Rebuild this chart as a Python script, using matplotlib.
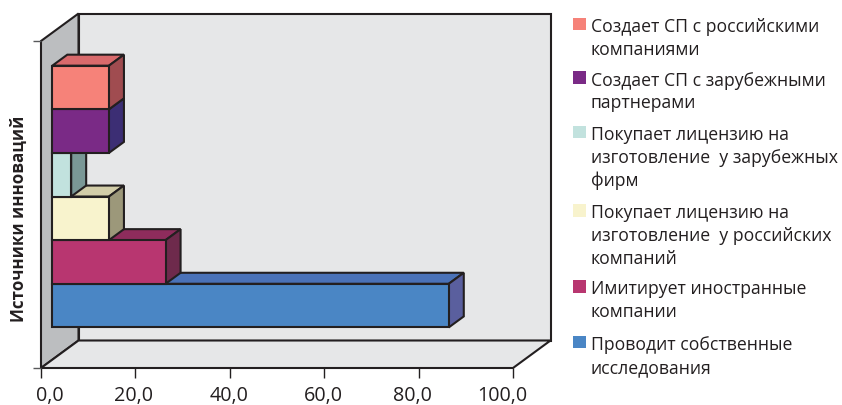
import matplotlib
matplotlib.use("Agg")
import matplotlib.pyplot as plt
from matplotlib.patches import Polygon
from matplotlib.transforms import ScaledTranslation

plt.rcParams['font.family'] = ['Open Sans', 'DejaVu Sans']

# Bottom-to-top order of the stacked bands
categories = [
    "Проводит собственные\nисследования",
    "Имитирует иностранные\nкомпании",
    "Покупает лицензию на\nизготовление  у российских\nкомпаний",
    "Покупает лицензию на\nизготовление  у зарубежных\nфирм",
    "Создает СП с зарубежными\nпартнерами",
    "Создает СП с российскими\nкомпаниями",
]
values = [84.0, 24.0, 12.0, 4.0, 12.0, 12.0]
front_colors = ["#4a86c5", "#b83670", "#f8f3cd", "#c2e2de", "#7a2a86", "#f68279"]
side_colors = ["#5a5f9e", "#6e2a4c", "#9c987a", "#7a9896", "#3c2e74", "#a04c50"]
top_colors = ["#4a72b8", "#8e2c5c", "#d2cda8", "#7a9896", "#3c2e74", "#d96a6c"]
legend_y = [343, 287.5, 211.5, 133, 78.5, 25]
tick_values = [0, 20, 40, 60, 80, 100]
tick_label_shift = [9, -2, -1, -1, -6, -11]

W, H = 842, 406
INK = "#231f20"
LW = 1.5

fig = plt.figure(figsize=(W / 100, H / 100), dpi=100)
ax = fig.add_axes([41 / W, (H - 369) / H, (513 - 41) / W, (369 - 42) / H])
band = 43.62
ax.set_xlim(0, 100)
ax.set_ylim(0, 327 / band)
for s in ax.spines.values():
    s.set_visible(False)
ax.patch.set_visible(False)

xu = 472 / 100
wall_dx, wall_dy = 37.5 / xu, 27.5 / band
bar_x0 = 11.3 / xu
bar_y0 = 40.6 / band
bar_dx, bar_dy = 15 / xu, 11 / band


def poly(pts, fc, z):
    ax.add_patch(Polygon(pts, closed=True, facecolor=fc, edgecolor=INK,
                         linewidth=LW, joinstyle="miter", clip_on=False, zorder=z))


ymax = 327 / band
# Back wall, side wall and floor
poly([(wall_dx, wall_dy), (100 + wall_dx, wall_dy), (100 + wall_dx, ymax + wall_dy),
      (wall_dx, ymax + wall_dy)], "#e6e7e8", 1)
poly([(0, 0), (wall_dx, wall_dy), (wall_dx, ymax + wall_dy), (0, ymax)], "#bcbec0", 1)
poly([(0, 0), (100, 0), (100 + wall_dx, wall_dy), (wall_dx, wall_dy)], "#e6e7e8", 1)

# Each band is a box: top and right-hand faces behind, front face on top
for i, v in enumerate(values):
    y0 = bar_y0 + i
    y1 = y0 + 1
    x0 = bar_x0
    x1 = x0 + v
    poly([(x0, y1), (x1, y1), (x1 + bar_dx, y1 + bar_dy), (x0 + bar_dx, y1 + bar_dy)],
         top_colors[i], 2 + i * 0.1)
    poly([(x1, y0), (x1 + bar_dx, y0 + bar_dy), (x1 + bar_dx, y1 + bar_dy), (x1, y1)],
         side_colors[i], 2 + i * 0.1)
    poly([(x0, y0), (x1, y0), (x1, y1), (x0, y1)], front_colors[i], 2 + i * 0.1 + 0.05)

ax.set_xticks(tick_values)
ax.set_xticklabels([f"{t:.1f}".replace(".", ",") for t in tick_values], fontsize=14.2, color=INK)
ax.set_yticks([0, ymax])
ax.set_yticklabels([])
ax.tick_params(axis="x", length=7, width=1.0, color=INK, pad=5)
ax.tick_params(axis="y", length=6, width=1.0, color="#58595b")

# The first and last labels sit inside the ends of the scale
for lab, shift in zip(ax.get_xticklabels(), tick_label_shift):
    lab.set_transform(lab.get_transform() + ScaledTranslation(shift / 100, 0, fig.dpi_scale_trans))

fig.text(19 / W, 1 - 219 / H, "Источники инноваций", rotation=90, fontsize=12.2,
         fontweight="bold", color=INK, ha="center", va="center")

# Legend, laid out by hand in figure pixels
LINE = 23
for label, color, sy in zip(categories, front_colors, legend_y):
    fig.patches.append(plt.Rectangle((573 / W, 1 - (sy + 6.25) / H), 13 / W, 12.5 / H,
                                     transform=fig.transFigure, facecolor=color,
                                     edgecolor="none"))
    for k, line in enumerate(label.split("\n")):
        fig.text(591 / W, 1 - (sy + 2 + k * LINE) / H, line, fontsize=12.7, color=INK,
                 ha="left", va="center")

fig.savefig("out.png", dpi=100)
